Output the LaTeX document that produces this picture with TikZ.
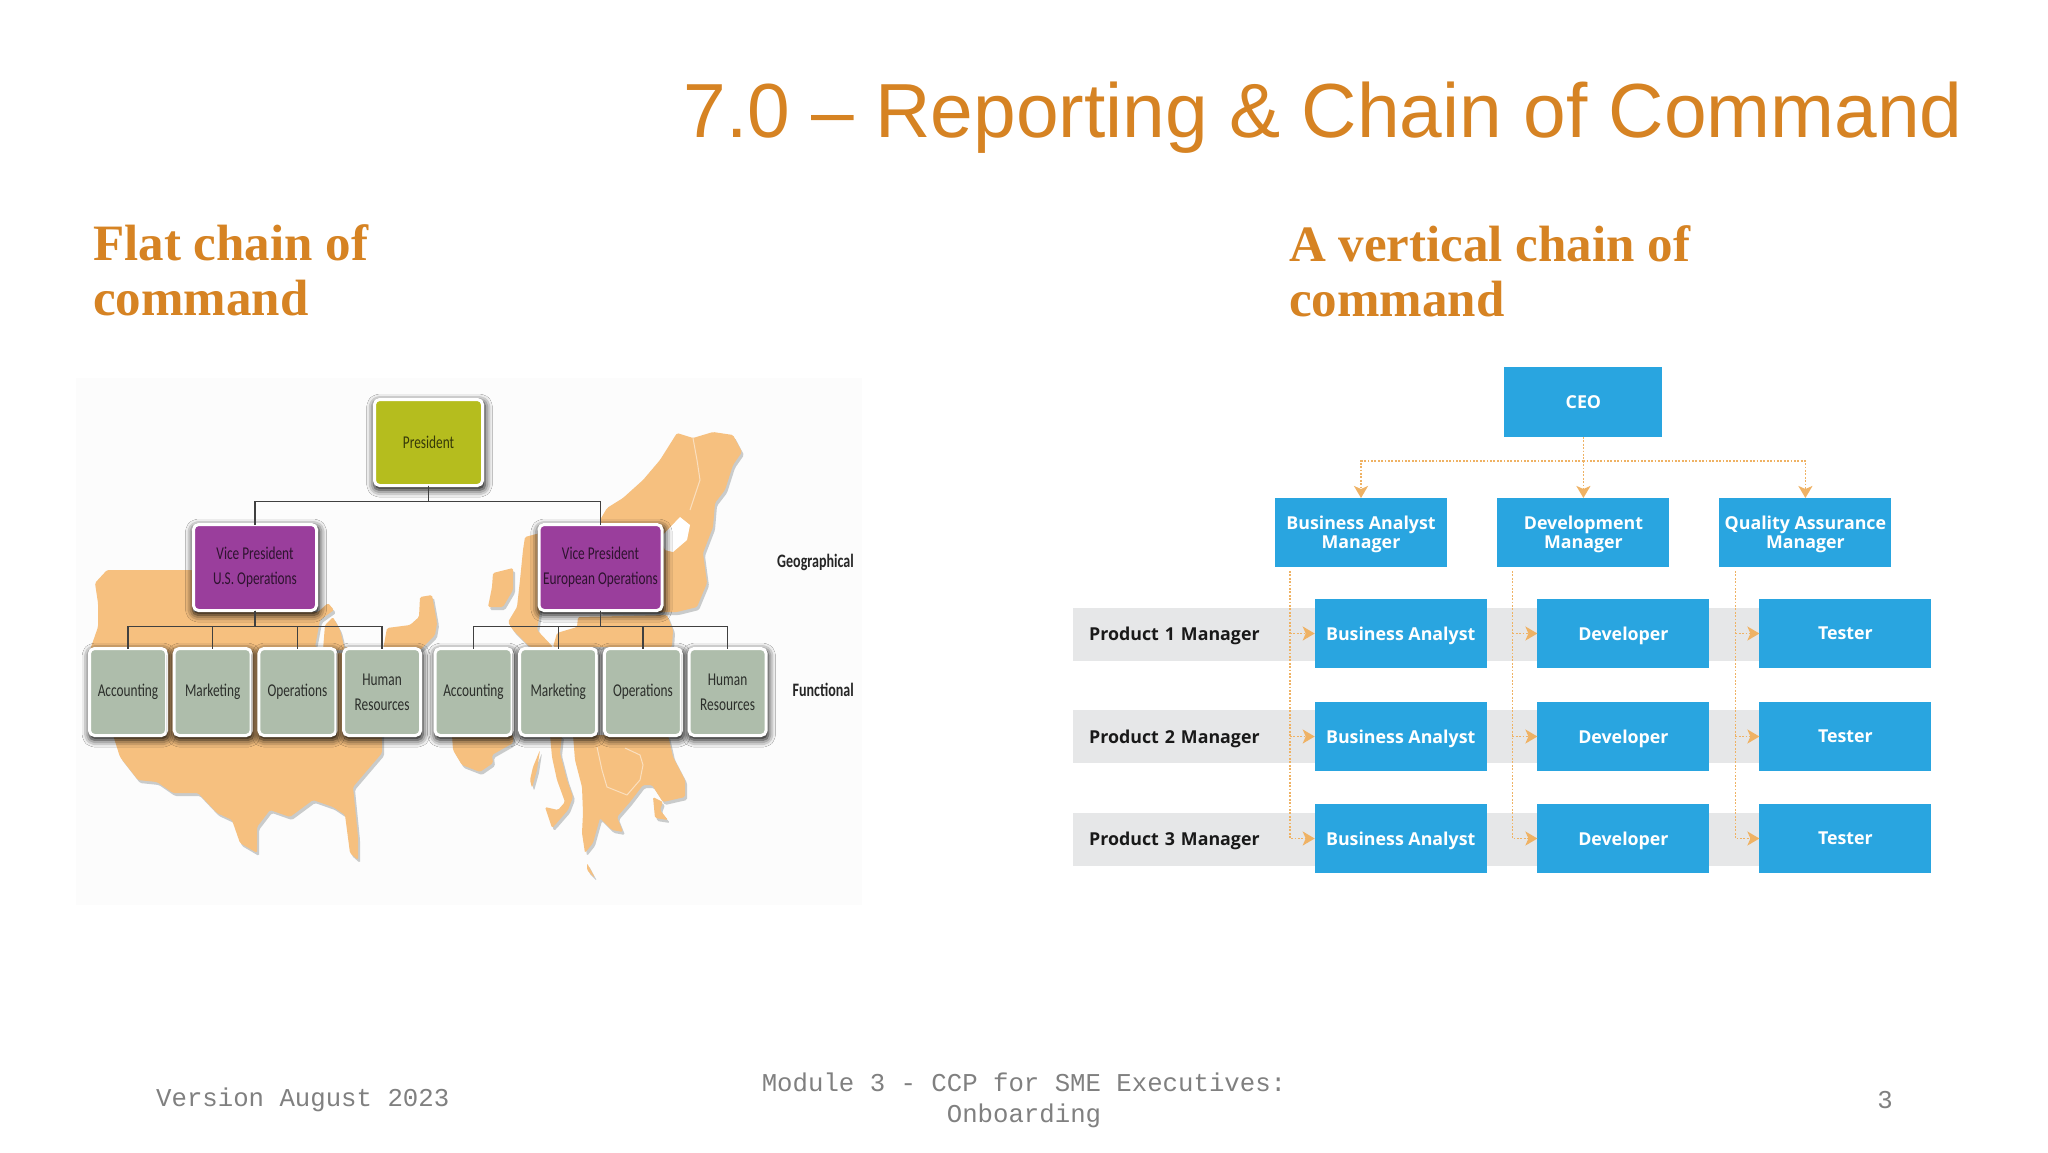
\documentclass[tikz,border=0pt]{standalone}
\usepackage{fontspec}
\usetikzlibrary{positioning,arrows.meta,shadows.blur}
\setmainfont{Liberation Sans}
\newfontfamily\headfont{Liberation Serif}
\newfontfamily\footfont{Liberation Mono}
\newfontfamily\chartfont{Open Sans}
\newfontfamily\orgfont{Carlito}[FakeStretch=0.74]
\definecolor{titleorange}{HTML}{D68323}
\definecolor{chartblue}{HTML}{29A5E0}
\definecolor{bandgrey}{HTML}{E6E7E8}
\definecolor{dotorange}{HTML}{EFB264}
\definecolor{landfill}{HTML}{F6C07F}
\definecolor{landshade}{HTML}{C9CBCB}
\definecolor{olivebox}{HTML}{B5BD1E}
\definecolor{purplebox}{HTML}{9A3E9C}
\definecolor{sagebox}{HTML}{AEBDAB}
\tikzset{
    land/.style={fill=landfill, rounded corners=1.5pt,
        preaction={fill=landshade, transform canvas={shift={(2pt,-3pt)}}}},
    border/.style={draw=white, line width=1pt, opacity=.5},
    orgbox/.style={draw=white, line width=3pt, rounded corners=5pt, outer sep=0pt,
        align=center, font=\orgfont\fontsize{18}{25}\selectfont,
        blur shadow={shadow xshift=1pt, shadow yshift=-3pt, shadow scale=1.03, shadow blur radius=7pt, shadow opacity=100}},
    toplevel/.style={orgbox, fill=olivebox, minimum width=108pt, minimum height=86pt, text=black!70!olivebox},
    vplevel/.style={orgbox, fill=purplebox, minimum width=123pt, minimum height=86pt, text=black!70!purplebox},
    funclevel/.style={orgbox, fill=sagebox, minimum width=77pt, minimum height=87pt, text=black!75!sagebox},
    levellabel/.style={anchor=east, inner sep=0pt, text=black!85, font=\orgfont\bfseries\fontsize{19}{22}\selectfont},
    treeline/.style={draw=black!75, line width=1.3pt},
    bluebox/.style={fill=chartblue, text=white, outer sep=0pt, inner sep=0pt, align=center, text depth=-2pt,
        minimum width=172pt, minimum height=69pt, font=\chartfont\bfseries\fontsize{17.8}{19}\selectfont},
    band/.style={fill=bandgrey, anchor=west, minimum width=690pt, minimum height=53pt, inner xsep=16pt,
        inner ysep=0pt, text width=658pt, align=left, text depth=-2pt, text=black!90,
        font=\chartfont\bfseries\fontsize{17.8}{19}\selectfont},
    dotline/.style={draw=dotorange, line width=1.8pt, dash pattern=on 1.8pt off 1.6pt},
    dotarrow/.style={dotline, -{Stealth[length=12pt,width=14pt,inset=3pt]}},
    headline/.style={anchor=west, inner sep=0pt, align=left, text=titleorange,
        font=\headfont\bfseries\fontsize{51}{55}\selectfont},
    footline/.style={inner sep=0pt, align=center, text=black!50, font=\footfont\fontsize{25.7}{31}\selectfont}
}

\begin{document}
\begin{tikzpicture}[x=1pt, y=-1pt]
    \useasboundingbox (0,0) rectangle (2048,1152);
    \fill[white] (0,0) rectangle (2048,1152);

    % Slide texts
    \node (slidetitle) [anchor=base west, inner sep=0pt, text=titleorange, font=\fontsize{76.7}{80}\selectfont]
        at (683.5,137) {7.0 -- Reporting \& Chain of Command};
    \node (flathead) [headline] at (93,270) {Flat chain of\\command};
    \node (verthead) [headline] at (1289,271) {A vertical chain of\\command};
    \node (version) [footline, anchor=west] at (156,1100) {Version August 2023};
    \node (module) [footline] at (1024,1100.5) {Module 3 - CCP for SME Executives:\\Onboarding};
    \node (pagenum) [footline] at (1885,1100) {3};

    % Map behind the flat chart
    \fill[black!1] (76,378) rectangle (862,905);
    \fill[land] (113,735) -- (90,650) -- (98,627) -- (98,603) -- (95,583) -- (107,570) -- (193,570) -- (193,612)
        -- (318,612) -- (328,603) -- (334,610) -- (320,620) -- (315,647) -- (385,647) -- (382,737) -- (382,753)
        -- (353,787) -- (358,837) -- (358,860) -- (350,853) -- (345,815) -- (333,807) -- (313,800) -- (290,817)
        -- (270,810) -- (257,827) -- (257,853) -- (240,843) -- (232,820) -- (217,813) -- (198,793) -- (173,793)
        -- (157,782) -- (138,780) -- (120,757) -- cycle;
    \fill[land] (325,625) -- (333,617) -- (340,630) -- (345,650) -- (323,650) -- cycle;
    \fill[land] (383,650) -- (387,628) -- (410,625) -- (419,617) -- (420,597) -- (432,595) -- (437,623)
        -- (435,635) -- (420,650) -- cycle;
    \fill[land] (677,433) -- (693,438) -- (713,432) -- (733,435) -- (742,452) -- (733,465) -- (725,490)
        -- (715,503) -- (713,527) -- (703,553) -- (707,583) -- (697,607) -- (677,612) -- (600,612) -- (600,520)
        -- (607,508) -- (623,498) -- (643,480) -- (660,460) -- cycle;
    \fill[white] (680,517) -- (690,525) -- (687,540) -- (673,552) -- (665,550) -- (660,538) -- cycle;
    \fill[land] (525,537) -- (540,533) -- (540,612) -- (537,630) -- (553,647) -- (530,647) -- (513,630) -- (508,622)
        -- (517,607) -- (520,580) -- (523,550) -- cycle;
    \fill[land] (493,573) -- (513,568) -- (513,590) -- (503,607) -- (488,607) -- (492,587) -- cycle;
    \fill[land] (578,617) -- (667,615) -- (673,630) -- (672,647) -- (553,647) -- (557,633) -- (577,627) -- cycle;
    \fill[land] (452,735) -- (453,750) -- (462,765) -- (480,772) -- (493,763) -- (492,755) -- (513,743) -- (513,735) -- cycle;
    \fill[land] (540,750) -- (537,770) -- (532,788) -- (530,780) -- (533,767) -- cycle;
    \fill[land] (550,735) -- (562,735) -- (560,753) -- (567,780) -- (573,797) -- (568,810) -- (555,825) -- (552,828)
        -- (545,807) -- (558,810) -- (565,802) -- (557,780) -- (552,757) -- cycle;
    \fill[land] (573,735) -- (668,735) -- (673,757) -- (685,780) -- (685,797) -- (663,802) -- (652,785) -- (643,785)
        -- (630,802) -- (617,817) -- (623,832) -- (612,830) -- (600,818) -- (593,843) -- (585,853) -- (582,833)
        -- (583,813) -- (582,787) -- (575,760) -- cycle;
    \fill[land] (653,797) -- (663,802) -- (660,810) -- (668,820) -- (655,818) -- cycle;
    \fill[land] (587,863) -- (595,878) -- (587,870) -- cycle;
    \draw[border] (597,747) -- (602,770) -- (607,787) -- (627,795) -- (640,780) -- (643,765) -- (640,755) -- (625,748);
    \draw[border] (693,438) -- (697,460) -- (700,480) -- (690,510);

    % Flat chart
    \node (president) [toplevel] at (428.5,442.5) {President};
    \node (vpus) [vplevel, below=39pt of president, xshift=-173.5pt] {Vice President\\U.S. Operations};
    \node (vpeu) [vplevel, below=39pt of president, xshift=172pt] {Vice President\\European Operations};

    \node (acc1) [funclevel, below=38pt of vpus, xshift=-127pt] {Accounting};
    \node (mkt1) [funclevel, right=7.7pt of acc1] {Marketing};
    \node (ops1) [funclevel, right=7.7pt of mkt1] {Operations};
    \node (hr1) [funclevel, right=7.7pt of ops1] {Human\\Resources};
    \node (acc2) [funclevel, below=38pt of vpeu, xshift=-127pt] {Accounting};
    \node (mkt2) [funclevel, right=7.7pt of acc2] {Marketing};
    \node (ops2) [funclevel, right=7.7pt of mkt2] {Operations};
    \node (hr2) [funclevel, right=7.7pt of ops2] {Human\\Resources};

    \node (geolabel) [levellabel] at (854,562) {Geographical};
    \node (funclabel) [levellabel] at (854,690) {Functional};

    \draw[treeline] (president.south) -- ++(0,16) -| (vpus.north);
    \draw[treeline] (president.south) -- ++(0,16) -| (vpeu.north);
    \draw[treeline] (vpus.south) -- ++(0,16) -| (acc1.north);
    \draw[treeline] (vpus.south) -- ++(0,16) -| (mkt1.north);
    \draw[treeline] (vpus.south) -- ++(0,16) -| (ops1.north);
    \draw[treeline] (vpus.south) -- ++(0,16) -| (hr1.north);
    \draw[treeline] (vpeu.south) -- ++(0,16) -| (acc2.north);
    \draw[treeline] (vpeu.south) -- ++(0,16) -| (mkt2.north);
    \draw[treeline] (vpeu.south) -- ++(0,16) -| (ops2.north);
    \draw[treeline] (vpeu.south) -- ++(0,16) -| (hr2.north);

    % Vertical chart
    \node (band1) [band] at (1073,634) {Product 1 Manager};
    \node (band2) [band] at (1073,736.5) {Product 2 Manager};
    \node (band3) [band] at (1073,839) {Product 3 Manager};

    \node (ceo) [bluebox, minimum width=158pt, minimum height=70pt] at (1583.4,402) {CEO};
    \node (devmgr) [bluebox, below=61pt of ceo] {Development\\Manager};
    \node (bamgr) [bluebox, left=50.4pt of devmgr] {Business Analyst\\Manager};
    \node (qamgr) [bluebox, right=50pt of devmgr] {Quality Assurance\\Manager};

    \node (ba1) [bluebox, below=32pt of bamgr, xshift=39.7pt] {Business Analyst};
    \node (ba2) [bluebox, below=34pt of ba1] {Business Analyst};
    \node (ba3) [bluebox, below=33pt of ba2] {Business Analyst};
    \node (dev1) [bluebox, right=50.7pt of ba1] {Developer};
    \node (dev2) [bluebox, right=50.7pt of ba2] {Developer};
    \node (dev3) [bluebox, right=50.7pt of ba3] {Developer};
    \node (test1) [bluebox, right=50pt of dev1] {Tester};
    \node (test2) [bluebox, right=50pt of dev2] {Tester};
    \node (test3) [bluebox, right=50pt of dev3] {Tester};

    \draw[dotarrow] (ceo.south) -- ++(0,24) -| (bamgr.north);
    \draw[dotarrow] (ceo.south) -- (devmgr.north);
    \draw[dotarrow] (ceo.south) -- ++(0,24) -| (qamgr.north);

    \coordinate (badrop) at ([xshift=15pt,yshift=-4pt]bamgr.south west);
    \coordinate (devdrop) at ([xshift=15pt,yshift=-4pt]devmgr.south west);
    \coordinate (qadrop) at ([xshift=16pt,yshift=-4pt]qamgr.south west);
    \draw[dotarrow] (badrop) |- (ba3.west);
    \draw[dotarrow] (badrop |- ba1.west) -- (ba1.west);
    \draw[dotarrow] (badrop |- ba2.west) -- (ba2.west);
    \draw[dotarrow] (devdrop) |- (dev3.west);
    \draw[dotarrow] (devdrop |- dev1.west) -- (dev1.west);
    \draw[dotarrow] (devdrop |- dev2.west) -- (dev2.west);
    \draw[dotarrow] (qadrop) |- (test3.west);
    \draw[dotarrow] (qadrop |- test1.west) -- (test1.west);
    \draw[dotarrow] (qadrop |- test2.west) -- (test2.west);
\end{tikzpicture}
\end{document}
